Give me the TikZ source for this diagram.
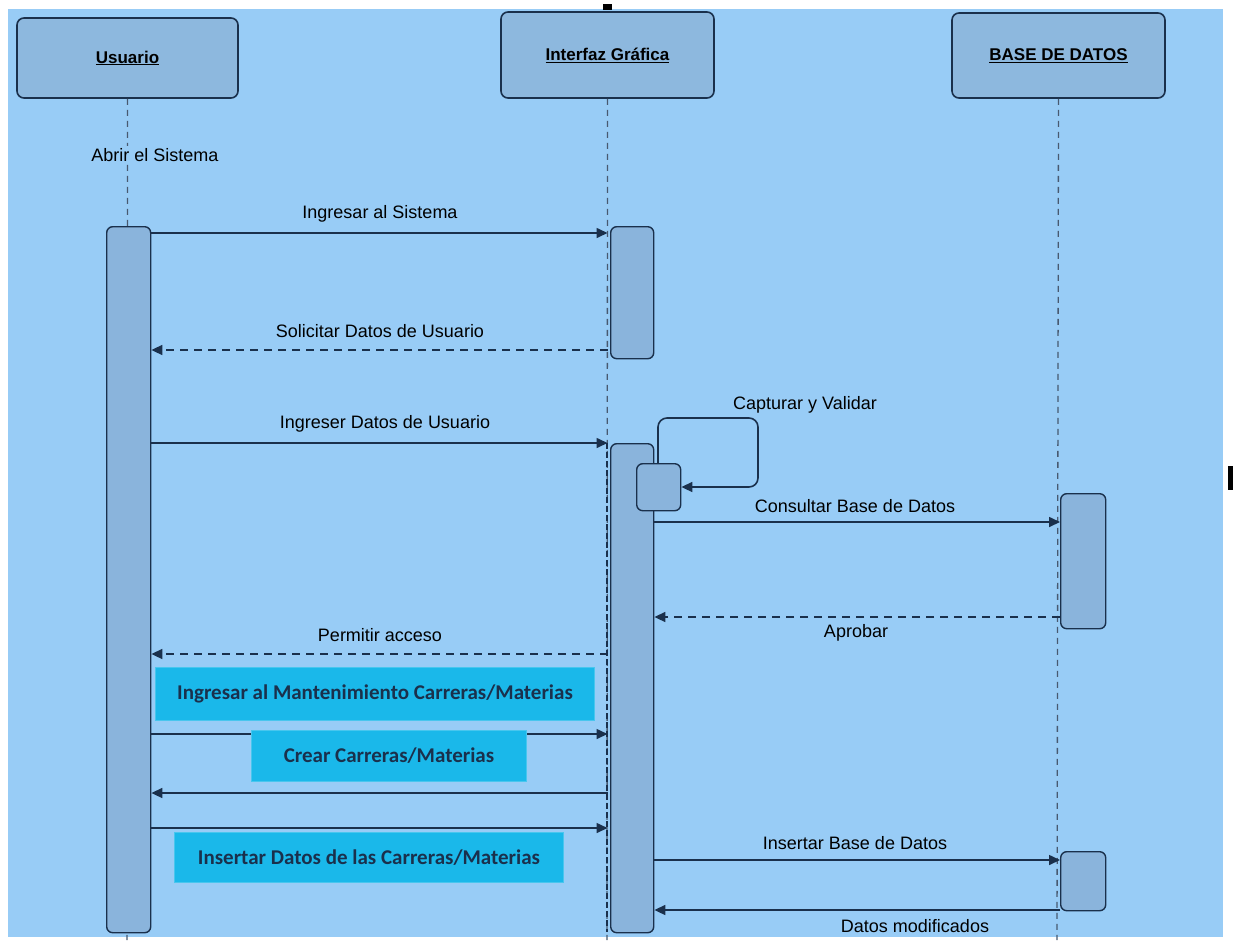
\documentclass[tikz,border=0pt]{standalone}
\usepackage{fontspec}
\setmainfont{Liberation Sans}
\newfontfamily\boxfont{Carlito}
\usetikzlibrary{arrows.meta,calc}
\definecolor{paper}{RGB}{152,204,246}
\definecolor{ink}{RGB}{26,48,76}
\definecolor{headfill}{RGB}{141,184,222}
\definecolor{barfill}{RGB}{138,180,220}
\definecolor{notefill}{RGB}{26,184,234}
\tikzset{
  head/.style={draw=ink, line width=1.6pt, fill=headfill, rounded corners=7pt,
    font=\fontsize{17}{20}\selectfont\bfseries, text=black, inner sep=0pt},
  actbar/.style={draw=ink, line width=1.4pt, fill=barfill, rounded corners=6pt,
    inner sep=0pt, anchor=north west},
  life/.style={draw=ink!80, line width=1.3pt, dash pattern=on 6pt off 5pt},
  lifebold/.style={draw=ink, line width=2.2pt, dash pattern=on 6pt off 3pt},
  msg/.style={draw=ink, line width=1.6pt, -{Triangle[length=11pt,width=10pt]}},
  reply/.style={msg, dash pattern=on 8pt off 6pt},
  lbl/.style={font=\fontsize{18}{21}\selectfont, text=black, inner sep=1pt},
  note/.style={fill=notefill, draw=notefill!80!white, line width=1pt, inner sep=0pt,
    anchor=north west},
  notetext/.style={font=\boxfont\fontsize{21}{24}\selectfont\bfseries, text=ink}
}
\begin{document}
\begin{tikzpicture}[x=1pt,y=-1pt]
\useasboundingbox (0,0) rectangle (1233,940);
\fill[white] (0,0) rectangle (1233,940);
\fill[paper] (8,9) rectangle (1223,937);
% small dark marks at the edges
\fill[black] (603,4) rectangle (612,10);
\fill[black] (1228,466) rectangle (1233,490);

% participants
\node[head, minimum width=221pt, minimum height=80pt] (usr) at (127.5,58) {\underline{Usuario}};
\node[head, minimum width=213pt, minimum height=86pt] (gui) at (607.5,55) {\underline{Interfaz Gráfica}};
\node[head, minimum width=213pt, minimum height=85pt] (db) at (1058.5,55.5) {\underline{BASE DE DATOS}};

% lifelines
\coordinate (usrEnd) at (127,940);
\coordinate (guiEnd) at (607,940);
\coordinate (dbEnd) at (1057,940);
\draw[life] (usr.south) -- (usrEnd);
\draw[life] (gui.south) -- (guiEnd);
\draw[life] (db.south) -- (dbEnd);
\draw[lifebold] (607,443) -- (607,932);

\node[lbl, fill=paper, inner sep=2pt] (open) at (155,155) {Abrir el Sistema};

% activation bars
\node[actbar, minimum width=44pt, minimum height=706pt] (u1) at (106,226) {};
\node[actbar, minimum width=43pt, minimum height=132pt] (g1) at (610,226) {};
\node[actbar, minimum width=43pt, minimum height=489pt] (g2) at (610,443) {};
\node[actbar, minimum width=44pt, minimum height=47pt] (g3) at (636,463) {};
\node[actbar, minimum width=45pt, minimum height=135pt] (d1) at (1060,493) {};
\node[actbar, minimum width=45pt, minimum height=59pt] (d2) at (1060,851) {};

% messages
\draw[msg] (u1.east |- 0,233) -- (gui.south |- 0,233);
\node[lbl] (m1) at (380,214) {Ingresar al Sistema};

\draw[reply] (gui.south |- 0,350) -- (u1.east |- 0,350);
\node[lbl] (m2) at (380,331) {Solicitar Datos de Usuario};

\draw[msg] (u1.east |- 0,443) -- (gui.south |- 0,443);
\node[lbl] (m3) at (385,424) {Ingreser Datos de Usuario};

\draw[msg, rounded corners=9pt] (658,463) -- (658,418) -- (758,418) -- (758,487) -- (g3.east |- 0,487);
\node[lbl] (m4) at (805,405) {Capturar y Validar};

\draw[msg] (g2.east |- 0,522) -- (d1.west |- 0,522);
\node[lbl] (m5) at (855,506) {Consultar Base de Datos};

\draw[reply] (d1.west |- 0,617) -- (g2.east |- 0,617);
\node[lbl] (m6) at (856,633) {Aprobar};

\draw[reply] (gui.south |- 0,654) -- (u1.east |- 0,654);
\node[lbl] (m7) at (380,635) {Permitir acceso};

\draw[msg] (u1.east |- 0,734) -- (gui.south |- 0,734);
\draw[msg] (gui.south |- 0,793) -- (u1.east |- 0,793);
\draw[msg] (u1.east |- 0,828) -- (gui.south |- 0,828);

\draw[msg] (g2.east |- 0,860) -- (d2.west |- 0,860);
\node[lbl] (m8) at (855,843) {Insertar Base de Datos};

\draw[msg] (d2.west |- 0,910) -- (g2.east |- 0,910);
\node[lbl] (m9) at (915,926) {Datos modificados};

% highlighted captions
\node[note, minimum width=439pt, minimum height=53pt] (n1) at (155,667) {};
\node[notetext] (t1) at (n1.center) {Ingresar al Mantenimiento Carreras/Materias};
\node[note, minimum width=275pt, minimum height=51pt] (n2) at (251,730) {};
\node[notetext] (t2) at (n2.center) {Crear Carreras/Materias};
\node[note, minimum width=389pt, minimum height=50pt] (n3) at (174,832) {};
\node[notetext] (t3) at (n3.center) {Insertar Datos de las Carreras/Materias};
\end{tikzpicture}
\end{document}
